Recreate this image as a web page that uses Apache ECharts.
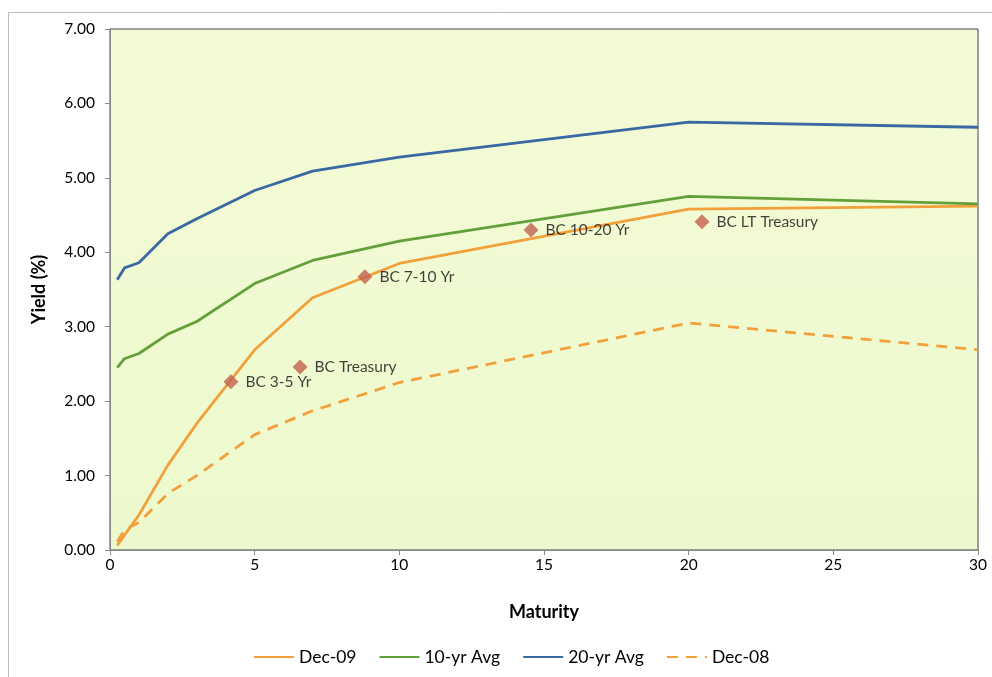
<!DOCTYPE html>
<html>
<head>
<meta charset="utf-8">
<script src="https://cdn.jsdelivr.net/npm/echarts@6/dist/echarts.min.js"></script>
<style>
  html, body { margin: 0; padding: 0; background: #ffffff; }
  #chart { width: 992px; height: 677px; }
</style>
</head>
<body>
<div id="chart"></div>
<script>
// Treasury maturities (years)
const maturities = [0.25, 0.5, 1, 2, 3, 5, 7, 10, 20, 30];

// Yield curves (%)
const dec09 = [0.06, 0.20, 0.47, 1.14, 1.70, 2.69, 3.39, 3.85, 4.58, 4.62];
const avg10 = [2.45, 2.57, 2.64, 2.90, 3.07, 3.58, 3.89, 4.15, 4.75, 4.65];
const avg20 = [3.63, 3.79, 3.86, 4.25, 4.45, 4.83, 5.09, 5.28, 5.75, 5.68];
const dec08 = [0.11, 0.27, 0.37, 0.76, 1.00, 1.55, 1.87, 2.25, 3.05, 2.69];

// Index points: name, duration, yield
const indexNames = ['BC 3-5 Yr', 'BC Treasury', 'BC 7-10 Yr', 'BC 10-20 Yr', 'BC LT Treasury'];
const indexMaturity = [4.18, 6.57, 8.81, 14.55, 20.46];
const indexYield = [2.26, 2.46, 3.67, 4.30, 4.41];

const seriesNames = ['Dec-09', '10-yr Avg', '20-yr Avg', 'Dec-08'];
const yTicks = [0, 1, 2, 3, 4, 5, 6, 7];

const FONT = 'Lato, "Open Sans", sans-serif';
const ORANGE = '#f2a03a';
const GREEN = '#64a03a';
const BLUE = '#3a68a2';
const MARKER = '#c3614f';

const pairs = (xs, ys) => xs.map((x, i) => [x, ys[i]]);

const chart = echarts.init(document.getElementById('chart'));

const lineSeries = (name, values, color, dashed) => ({
  name: name,
  type: 'line',
  data: pairs(maturities, values),
  symbol: 'none',
  smooth: false,
  lineStyle: { color: color, width: 2.8, type: dashed ? [11, 8] : 'solid' },
  itemStyle: { color: color },
  z: 3
});

chart.setOption({
  animation: false,
  backgroundColor: '#ffffff',
  graphic: [{
    type: 'rect',
    shape: { x: 8.5, y: 12.5, width: 1000, height: 700 },
    style: { fill: 'none', stroke: '#bdbdbd', lineWidth: 1 },
    z: -10
  }],
  grid: {
    left: 110, right: 14, top: 29, bottom: 127,
    show: true,
    backgroundColor: new echarts.graphic.LinearGradient(0, 0, 0, 1, [
      { offset: 0, color: '#f4fbd7' },
      { offset: 1, color: '#edf9cd' }
    ]),
    borderColor: '#444444',
    borderWidth: 1
  },
  legend: {
    data: seriesNames,
    bottom: 6,
    left: 248,
    itemWidth: 40,
    itemHeight: 12,
    itemGap: 22,
    itemStyle: { opacity: 0 },
    textStyle: { fontFamily: FONT, fontSize: 17.5, color: '#000' }
  },
  xAxis: {
    type: 'value',
    min: 0, max: 30, interval: 5,
    name: 'Maturity',
    nameLocation: 'middle',
    nameGap: 53,
    nameTextStyle: { fontFamily: FONT, fontSize: 18, fontWeight: 'bold', color: '#000' },
    axisLine: { show: true, lineStyle: { color: '#8a8a8a' } },
    axisTick: { show: true, inside: false, length: 5, lineStyle: { color: '#8a8a8a' } },
    axisLabel: { fontFamily: FONT, fontSize: 15.5, color: '#000', margin: 7 },
    splitLine: { show: false }
  },
  yAxis: {
    type: 'value',
    min: yTicks[0], max: yTicks[yTicks.length - 1], interval: 1,
    name: 'Yield (%)',
    nameLocation: 'middle',
    nameGap: 62,
    nameTextStyle: { fontFamily: FONT, fontSize: 18, fontWeight: 'bold', color: '#000' },
    axisLine: { show: true, lineStyle: { color: '#8a8a8a' } },
    axisTick: { show: true, inside: false, length: 5, lineStyle: { color: '#8a8a8a' } },
    axisLabel: {
      fontFamily: FONT, fontSize: 15.5, color: '#000', margin: 15,
      formatter: v => v.toFixed(2)
    },
    splitLine: { show: false }
  },
  series: [
    lineSeries('Dec-09', dec09, ORANGE, false),
    lineSeries('10-yr Avg', avg10, GREEN, false),
    lineSeries('20-yr Avg', avg20, BLUE, false),
    lineSeries('Dec-08', dec08, ORANGE, true),
    {
      name: 'Indices',
      type: 'scatter',
      data: indexNames.map((n, i) => ({ name: n, value: [indexMaturity[i], indexYield[i]] })),
      symbol: 'diamond',
      symbolSize: [15, 15],
      itemStyle: { color: MARKER },
      label: {
        show: true,
        position: 'right',
        distance: 7,
        formatter: p => p.name,
        fontFamily: FONT,
        fontSize: 15.5,
        color: '#111'
      },
      z: 5
    }
  ]
});
</script>
</body>
</html>
